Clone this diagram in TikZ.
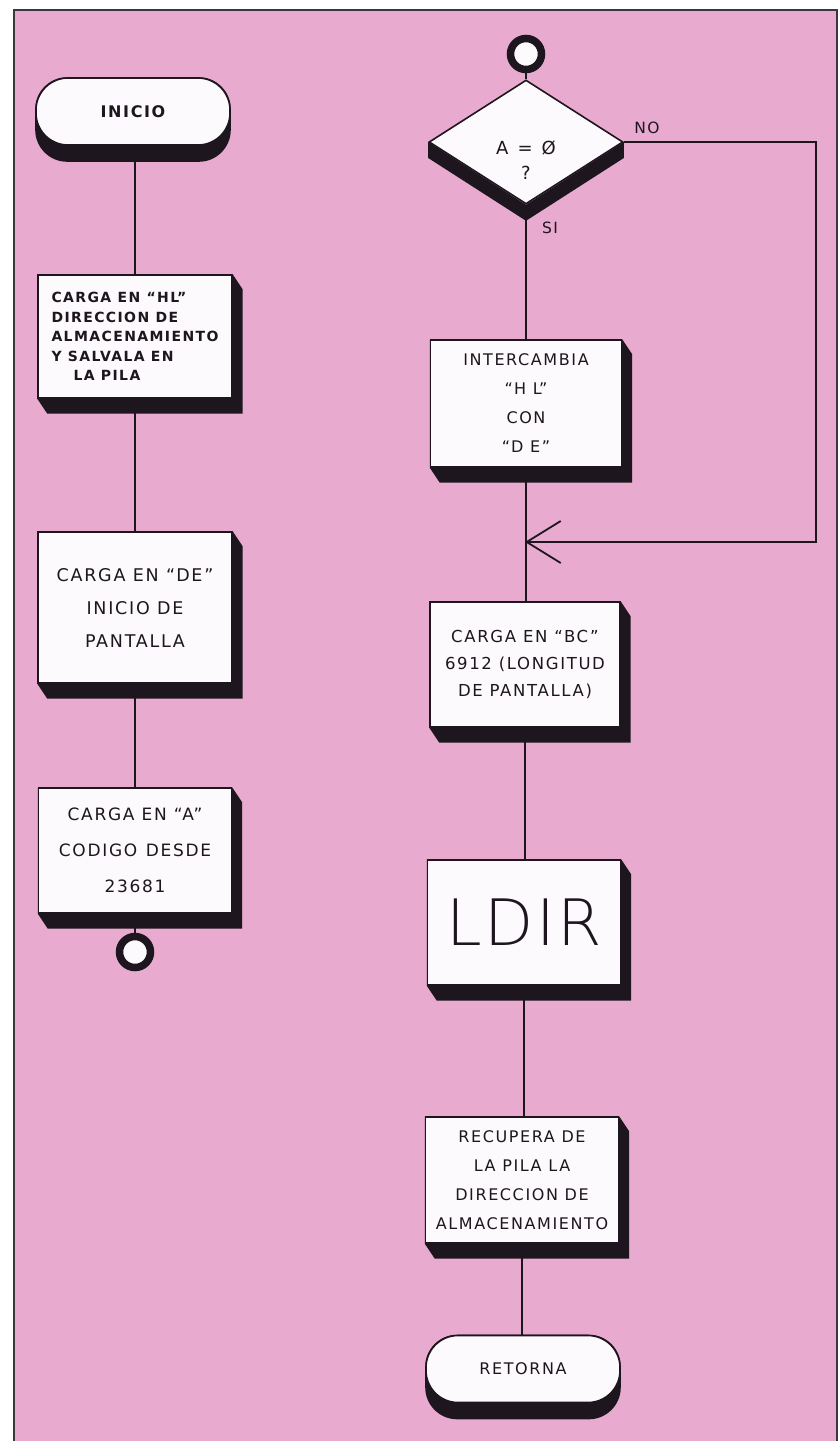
\documentclass[tikz,border=0pt]{standalone}
\usepackage{fontspec}
\setmainfont{DejaVu Sans}[LetterSpace=10]
\newfontfamily\thinfont{DejaVu Sans ExtraLight}[LetterSpace=4]
\usetikzlibrary{shapes.geometric,arrows.meta,calc}

\definecolor{paper}{RGB}{232,170,206}
\definecolor{ink}{RGB}{30,22,30}
\definecolor{framec}{RGB}{60,55,60}
\definecolor{face}{RGB}{252,250,252}

\pgfdeclarelayer{paperlayer}
\pgfdeclarelayer{shadelayer}
\pgfsetlayers{paperlayer,shadelayer,main}

\tikzset{
  flow/.style={draw=ink, line width=1.8pt},
  stepbox/.style={rectangle, draw=ink, line width=1.4pt, fill=face, inner sep=0pt, align=center, text=ink},
  termbox/.style={rectangle, rounded corners=32pt, draw=ink, line width=1.6pt, fill=face, inner sep=0pt, text=ink,
                  minimum width=194pt, minimum height=67pt},
  ring/.style={circle, draw=ink, line width=7.5pt, fill=face, minimum size=31pt, inner sep=0pt},
  decision/.style={diamond, draw=ink, line width=1.6pt, fill=face, inner sep=0pt,
                   minimum width=194pt, minimum height=124pt},
  lbl/.style={font=\fontsize{15.5}{18}\selectfont, text=ink}
}

% extruded shadow of a rectangular step, towards the lower right
\newcommand\boxshade[1]{%
  \begin{pgfonlayer}{shadelayer}
    \fill[ink] (#1.north west) -- (#1.north east) -- ([shift={(10,15)}]#1.north east)
      -- ([shift={(10,15)}]#1.south east) -- ([shift={(10,15)}]#1.south west)
      -- (#1.south west) -- cycle;
  \end{pgfonlayer}}
% extruded shadow of a rounded terminal, straight down
\newcommand\pillshade[1]{%
  \begin{pgfonlayer}{shadelayer}
    \fill[ink, rounded corners=32pt] (#1.north west) rectangle ([shift={(0,16)}]#1.south east);
  \end{pgfonlayer}}

\begin{document}
\begin{tikzpicture}[x=1pt,y=-1pt]
\useasboundingbox (0,0) rectangle (839,1441);
\begin{pgfonlayer}{paperlayer}
  \fill[white] (0,0) rectangle (839,1441);
  \fill[paper] (14,10) rectangle (837,1441);
  \draw[framec, line width=2pt] (14,1441) -- (14,10) -- (837,10) -- (837,1441);
\end{pgfonlayer}

% left column
\node[termbox, font=\fontsize{16}{18}\selectfont\bfseries] (start) at (133,111.5) {INICIO};
\node[stepbox, align=left, minimum width=194pt, minimum height=123pt,
      font=\fontsize{14}{19.5}\selectfont\bfseries] (b1) at (135,336.5)
  {CARGA EN “HL”\\DIRECCION DE\\ALMACENAMIENTO\\Y SALVALA EN\\\hspace*{22pt}LA PILA};
\node[stepbox, minimum width=194pt, minimum height=151pt,
      font=\fontsize{17.5}{33}\selectfont] (b2) at (135,607.5)
  {CARGA EN “DE”\\INICIO DE\\PANTALLA};
\node[stepbox, minimum width=193pt, minimum height=125pt,
      font=\fontsize{17}{36}\selectfont] (b3) at (135,850.5)
  {CARGA EN “A”\\CODIGO\enspace DESDE\\23681};
\node[ring] (offL) at (135,952) {};

% right column
\node[ring] (onR) at (526,54) {};
\node[decision] (dec) at (526,142) {};
\node[font=\fontsize{18}{25}\selectfont, align=center, text=ink] (dectext) at (526,160) {A\enspace=\enspace Ø\\?};
\node[lbl] (nolbl) at (647,128) {NO};
\node[lbl] (silbl) at (550,228) {SI};
\node[stepbox, minimum width=191pt, minimum height=127pt,
      font=\fontsize{16}{29}\selectfont] (b4) at (526,403.5)
  {INTERCAMBIA\\“H L”\\CON\\“D E”};
\node[stepbox, minimum width=190pt, minimum height=125pt,
      font=\fontsize{16.5}{27}\selectfont] (b5) at (525,664.5)
  {CARGA EN “BC”\\6912 (LONGITUD\\DE PANTALLA)};
\node[stepbox, minimum width=193pt, minimum height=125pt,
      font=\thinfont\fontsize{64}{64}\selectfont] (ldir) at (524,922.5) {LDIR};
\node[stepbox, minimum width=193pt, minimum height=126pt,
      font=\fontsize{16}{29}\selectfont] (b7) at (522,1180)
  {RECUPERA DE\\LA PILA LA\\DIRECCION DE\\ALMACENAMIENTO};
\node[termbox, font=\fontsize{16}{18}\selectfont] (stop) at (523,1369) {RETORNA};

\coordinate (noX) at (816,0);
\coordinate (merge) at (525,542);

% connectors
\draw[flow] (b1.north |- start.south) -- (b1.north);
\draw[flow] (b1.south) -- (b2.north);
\draw[flow] (b2.south) -- (b3.north);
\draw[flow] (b3.south) -- (offL.north);
\draw[flow] (onR.south) -- (dec.north);
\draw[flow] (dec.south) -- (dec.south |- b4.north);
\draw[flow] (b4.south) -- (b4.south |- b5.north);
\draw[flow] (b5.south) -- (b5.south |- ldir.north);
\draw[flow] (ldir.south) -- (ldir.south |- b7.north);
\draw[flow] (b7.south) -- (b7.south |- stop.north);
\draw[flow, -{Straight Barb[length=34pt,width=42pt]}]
  (dec.east) -- (dec.east -| noX) |- (merge);

% shadows
\pillshade{start}
\boxshade{b1}
\boxshade{b2}
\boxshade{b3}
\begin{pgfonlayer}{shadelayer}
  \fill[ink] (dec.west) -- (dec.south) -- (dec.east) -- ([shift={(0,16)}]dec.east)
    -- ([shift={(0,16)}]dec.south) -- ([shift={(0,16)}]dec.west) -- cycle;
\end{pgfonlayer}
\boxshade{b4}
\boxshade{b5}
\boxshade{ldir}
\boxshade{b7}
\pillshade{stop}
\end{tikzpicture}
\end{document}
